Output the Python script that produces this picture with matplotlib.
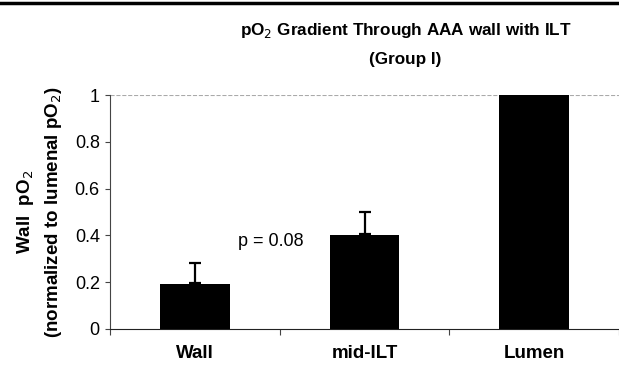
import matplotlib.pyplot as plt
import numpy as np
from matplotlib.lines import Line2D

plt.rcParams['font.family'] = ['Liberation Sans', 'DejaVu Sans']

# データ
categories = ['Wall', 'mid-ILT', 'Lumen']
values = [0.19, 0.40, 1.0]
errors = [0.09, 0.10, 0.0]
yticks = [0, 0.2, 0.4, 0.6, 0.8, 1]
ytick_labels = ['0', '0.2', '0.4', '0.6', '0.8', '1']

fig = plt.figure(figsize=(6.19, 3.67), dpi=100)
ax = fig.add_axes([0.178, 0.104, 0.822, 0.637])

x = np.arange(len(categories))
ax.bar(x, values, width=0.41, color='black', zorder=3)
# 誤差棒（上側のみ）
for xi, v, e in zip(x, values, errors):
    if e > 0:
        ax.errorbar(xi, v + 0.005, yerr=[[0], [e - 0.005]], fmt='none',
                    ecolor='black', elinewidth=1.6, capsize=4, capthick=1.6,
                    zorder=2)

ax.axhline(1, color='#aaaaaa', linestyle='--', linewidth=0.8, zorder=1)
ax.text(0.45, 0.375, 'p = 0.08', fontsize=13, ha='center', va='center')

ax.set_xlim(-0.5, 2.5)
ax.set_ylim(0, 1)
ax.set_xticks([-0.5, 0.5, 1.5, 2.5])
ax.set_xticklabels([])
ax.set_xticks(x, minor=True)
ax.set_xticklabels(categories, minor=True, fontsize=13.5, fontweight='bold')
ax.tick_params(axis='x', which='minor', length=0, pad=12)
ax.tick_params(axis='x', which='major', length=4, direction='out',
               color='#444444')
ax.set_yticks(yticks)
ax.set_yticklabels(ytick_labels, fontsize=13)
ax.tick_params(axis='y', length=3.5, direction='out', pad=4, color='#444444')

ax.spines['top'].set_visible(False)
ax.spines['right'].set_visible(False)
ax.spines['left'].set_color('#444444')
ax.spines['bottom'].set_color('#222222')

ax.set_ylabel('Wall  pO$_2$\n(normalized to lumenal pO$_2$)', fontsize=13.5,
              fontweight='bold', labelpad=8, linespacing=1.45)

fig.text(0.655, 0.918, 'pO$_2$ Gradient Through AAA wall with ILT', fontsize=12.3,
         fontweight='bold', ha='center', va='center')
fig.text(0.655, 0.837, '(Group I)', fontsize=12.3, fontweight='bold',
         ha='center', va='center')

fig.add_artist(Line2D([0, 1], [0.992, 0.992], color='black', linewidth=2.5,
                      transform=fig.transFigure))

plt.savefig('out.png', dpi=100)
plt.close()
